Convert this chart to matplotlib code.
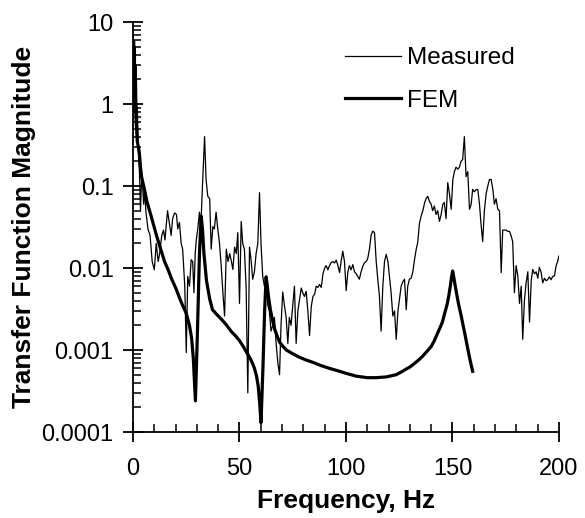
import matplotlib
matplotlib.use("Agg")
import matplotlib.pyplot as plt
from matplotlib.ticker import FixedLocator, FixedFormatter, LogLocator, MultipleLocator, NullFormatter

plt.rcParams['font.family'] = ['Liberation Sans', 'DejaVu Sans']

# --- Measured transfer function ---
meas_freq = [
    0.0, 0.3, 0.5, 0.7, 0.9, 1.1, 1.3, 1.5, 1.8, 2.1, 2.5, 3.0, 3.5, 4.0, 4.5, 5.0,
    5.5, 6.0, 7.0, 8.0, 9.0, 10.0, 10.9, 11.8, 12.5, 13.5, 14.3, 15.0, 16.2, 17.1,
    17.9, 18.6, 19.5, 20.4, 21.0, 21.8, 22.6, 23.3, 24.3, 25.0, 25.7, 26.5, 27.3,
    28.0, 28.6, 29.2, 29.7, 30.4, 31.2, 31.8, 32.6, 33.6, 34.3, 35.1, 36.0, 36.7,
    37.5, 38.2, 39.0, 39.8, 40.6, 41.4, 42.2, 43.0, 43.8, 44.6, 45.4, 46.2, 46.9,
    47.7, 48.5, 49.2, 50.0, 50.8, 51.5, 52.3, 53.1, 53.9, 54.7, 55.5, 56.2, 57.0,
    57.8, 58.6, 59.4, 60.1, 60.9, 61.7, 62.5, 63.3, 64.0, 64.8, 65.6, 66.4, 67.2,
    68.0, 68.8, 69.5, 70.3, 71.1, 71.9, 72.7, 73.4, 74.2, 75.0, 75.8, 76.6, 77.4,
    78.1, 79.0, 79.7, 80.5, 81.3, 82.1, 82.9, 83.7, 84.5, 85.3, 86.0, 86.8, 87.6,
    88.4, 89.2, 90.0, 90.7, 91.5, 92.3, 93.0, 93.8, 94.6, 95.4, 96.1, 97.0, 97.7,
    98.5, 99.3, 100.1, 100.9, 101.6, 102.4, 103.2, 104.0, 104.8, 105.5, 106.3,
    107.1, 107.9, 108.7, 109.5, 110.2, 111.0, 111.8, 112.6, 113.4, 114.2, 115.0,
    115.7, 116.5, 117.3, 118.1, 118.9, 119.7, 120.4, 121.2, 122.0, 122.8, 123.6,
    124.4, 125.1, 125.9, 126.7, 127.5, 128.3, 129.0, 129.8, 130.6, 131.4, 132.2,
    133.0, 133.7, 134.5, 135.3, 136.1, 136.9, 137.6, 138.4, 139.2, 140.0, 140.7,
    141.5, 142.3, 143.1, 143.9, 144.7, 145.5, 146.2, 147.0, 147.8, 148.6, 149.4,
    150.2, 150.9, 151.7, 152.5, 153.3, 154.0, 154.8, 155.6, 156.4, 157.2, 158.0,
    158.8, 159.5, 160.3, 161.1, 161.9, 162.7, 163.4, 164.2, 165.0, 165.8, 166.6,
    167.4, 168.2, 169.0, 169.7, 170.5, 171.3, 172.1, 172.9, 173.6, 174.4, 175.2,
    176.0, 176.8, 177.5, 178.3, 179.1, 179.9, 180.7, 181.5, 182.3, 183.0, 183.8,
    184.6, 185.4, 186.2, 187.0, 187.7, 188.5, 189.3, 190.1, 190.8, 191.6, 192.4,
    193.2, 194.0, 194.7, 195.5, 196.3, 197.1, 197.9, 198.7, 199.4, 200.0,
]
meas_mag = [
    0.5, 5.5, 0.8, 6.0, 1.5, 5.0, 0.6, 3.0, 1.0, 0.8, 0.25, 0.15, 0.05, 0.12, 0.1, 0.06,
    0.09, 0.05, 0.03, 0.025, 0.012, 0.0095, 0.02, 0.012, 0.015, 0.025, 0.029, 0.022, 0.05, 0.035,
    0.025, 0.04, 0.047, 0.045, 0.03, 0.036, 0.02, 0.017, 0.006, 0.00093, 0.0079, 0.006, 0.0126,
    0.012, 0.005, 0.015, 0.022, 0.03, 0.048, 0.03, 0.1, 0.40, 0.12, 0.075, 0.07, 0.017,
    0.032, 0.03, 0.048, 0.03, 0.02, 0.0107, 0.005, 0.0026, 0.017, 0.012, 0.015, 0.012, 0.0096,
    0.018, 0.015, 0.027, 0.0037, 0.037, 0.02, 0.017, 0.006, 0.0003, 0.018, 0.012, 0.0073, 0.009,
    0.015, 0.02, 0.083, 0.02, 0.0079, 0.006, 0.008, 0.0035, 0.003, 0.0017, 0.002, 0.0025, 0.0012,
    0.0007, 0.0005, 0.002, 0.0051, 0.0035, 0.0025, 0.0012, 0.0025, 0.002, 0.0035, 0.006, 0.0012, 0.003,
    0.004, 0.0057, 0.005, 0.0045, 0.0052, 0.003, 0.0015, 0.0034, 0.0045, 0.0048, 0.006, 0.0058, 0.0063,
    0.0058, 0.0085, 0.01, 0.0107, 0.0095, 0.0107, 0.0116, 0.012, 0.0115, 0.0125, 0.011, 0.0088, 0.012,
    0.016, 0.012, 0.0053, 0.009, 0.0107, 0.0095, 0.011, 0.009, 0.0085, 0.0079, 0.0073,
    0.009, 0.0105, 0.0116, 0.012, 0.013, 0.0168, 0.025, 0.0282, 0.027, 0.012, 0.007,
    0.0046, 0.0017, 0.006, 0.012, 0.0147, 0.012, 0.008, 0.005, 0.0026, 0.003, 0.00135,
    0.003, 0.0041, 0.006, 0.0068, 0.0073, 0.0031, 0.006, 0.0073, 0.0075, 0.009, 0.0127,
    0.017, 0.0205, 0.035, 0.043, 0.05, 0.062, 0.07, 0.075, 0.065, 0.06, 0.05,
    0.057, 0.045, 0.05, 0.037, 0.045, 0.06, 0.063, 0.04, 0.11, 0.08, 0.052,
    0.12, 0.15, 0.17, 0.16, 0.17, 0.2, 0.21, 0.40, 0.13, 0.15, 0.052,
    0.06, 0.091, 0.085, 0.09, 0.091, 0.06, 0.035, 0.021, 0.05, 0.08, 0.1,
    0.12, 0.12, 0.09, 0.06, 0.07, 0.052, 0.05, 0.0088, 0.029, 0.029, 0.029,
    0.028, 0.028, 0.025, 0.021, 0.005, 0.0107, 0.008, 0.0037, 0.006, 0.00135, 0.004,
    0.0066, 0.009, 0.0022, 0.007, 0.0096, 0.0085, 0.009, 0.0075, 0.0102, 0.009, 0.0066,
    0.0075, 0.007, 0.0072, 0.0078, 0.0072, 0.0079, 0.008, 0.0107, 0.012, 0.014,
]

# --- FEM prediction ---
fem_freq = [
    0.2, 0.6, 1.0, 1.5, 2.0, 2.5, 3.0, 3.5, 4.0, 5.4, 6.5, 8.5, 11.0, 13.0, 14.8,
    16.5, 18.0, 20.3, 22.0, 23.3, 25.0, 26.5, 27.5, 28.3, 29.3, 30.2, 31.2, 32.0,
    32.6, 33.3, 34.5, 36.0, 37.3, 40.0, 42.0, 44.0, 46.0, 48.0, 50.0, 52.0, 53.0,
    54.0, 55.0, 56.0, 57.0, 58.0, 58.8, 59.5, 60.1, 61.0, 61.8, 62.5, 63.0, 63.6,
    64.5, 65.5, 66.5, 67.6, 68.8, 70.5, 72.0, 75.0, 78.0, 81.0, 84.3, 88.0, 92.0,
    96.0, 100.0, 104.8, 110.0, 114.2, 119.0, 123.6, 126.0, 128.0, 130.0, 132.0,
    134.0, 136.0, 138.0, 140.0, 141.5, 143.0, 144.3, 145.3, 146.5, 147.5, 148.3,
    149.0, 149.6, 150.1, 150.6, 151.2, 152.0, 153.0, 154.0, 155.0, 156.0, 157.0,
    158.3, 159.5,
]
fem_mag = [
    5.5, 3.0, 1.2, 0.6, 0.35, 0.3, 0.25, 0.17, 0.13, 0.09, 0.065, 0.043, 0.025, 0.017, 0.012,
    0.0095, 0.0075, 0.0055, 0.0042, 0.0035, 0.0028, 0.002, 0.0014, 0.0008, 0.00024, 0.0015, 0.015, 0.043,
    0.03, 0.015, 0.007, 0.0042, 0.0031, 0.0026, 0.0023, 0.002, 0.0017, 0.0015, 0.0013, 0.00108, 0.00097,
    0.00088, 0.00079, 0.0007, 0.0006, 0.00048, 0.00036, 0.00022, 0.00013, 0.0006, 0.003, 0.0078, 0.0062, 0.0045,
    0.0031, 0.0023, 0.0018, 0.0015, 0.00125, 0.0011, 0.001, 0.0009, 0.00082, 0.00076, 0.00071, 0.00065, 0.0006,
    0.00056, 0.00052, 0.00048, 0.00046, 0.00046, 0.00047, 0.0005, 0.00054, 0.00058, 0.00062, 0.00068,
    0.00075, 0.00084, 0.00096, 0.0011, 0.0013, 0.0016, 0.0019, 0.0022, 0.0029, 0.0036, 0.0046,
    0.006, 0.0078, 0.0092, 0.0078, 0.0063, 0.0048, 0.0035, 0.0027, 0.002, 0.0015, 0.0011,
    0.00075, 0.00055,
]

y_ticks = [0.0001, 0.001, 0.01, 0.1, 1, 10]
y_tick_labels = ["0.0001", "0.001", "0.01", "0.1", "1", "10"]
x_ticks = [0, 50, 100, 150, 200]

fig = plt.figure(figsize=(5.85, 5.18), dpi=100)
ax = fig.add_axes([0.2274, 0.166, 0.728, 0.7915])

ax.plot(meas_freq, meas_mag, color='black', linewidth=0.9, label='Measured')
ax.plot(fem_freq, fem_mag, color='black', linewidth=2.3, label='FEM')

ax.set_yscale('log')
ax.set_xlim(0, 200)
ax.set_ylim(0.0001, 10)

ax.yaxis.set_major_locator(FixedLocator(y_ticks))
ax.yaxis.set_major_formatter(FixedFormatter(y_tick_labels))
ax.yaxis.set_minor_locator(LogLocator(base=10, subs=range(2, 10), numticks=20))
ax.yaxis.set_minor_formatter(NullFormatter())
ax.xaxis.set_major_locator(FixedLocator(x_ticks))
ax.xaxis.set_minor_locator(MultipleLocator(10))

for side in ('top', 'right'):
    ax.spines[side].set_visible(False)
for side in ('left', 'bottom'):
    ax.spines[side].set_linewidth(1.3)

ax.tick_params(which='major', direction='inout', length=14, width=1.3, labelsize=17)
ax.tick_params(which='minor', direction='in', length=6, width=1.1)
ax.tick_params(axis='x', which='major', pad=12)
ax.tick_params(axis='y', which='major', pad=7)

ax.set_xlabel('Frequency, Hz', fontsize=19, fontweight='bold', labelpad=6)
ax.set_ylabel('Transfer Function Magnitude', fontsize=19, fontweight='bold', labelpad=4)

ax.legend(loc='upper left', bbox_to_anchor=(0.47, 0.968), frameon=False, fontsize=17.5,
          handlelength=2.3, handletextpad=0.25, labelspacing=0.85, borderpad=0)

fig.savefig('out.png', dpi=100)
